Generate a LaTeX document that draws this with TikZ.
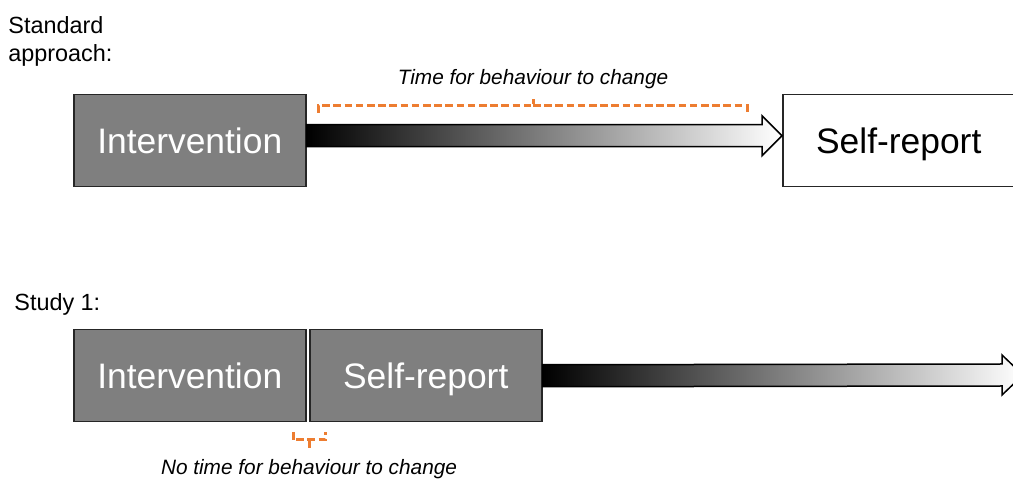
\documentclass[tikz,border=0pt]{standalone}
\usepackage{fontspec}
\setmainfont{Liberation Sans}
\usetikzlibrary{calc}
\definecolor{boxgray}{HTML}{7F7F7F}
\definecolor{boxedge}{HTML}{262626}
\definecolor{braceorange}{HTML}{ED7D31}
\tikzset{
  stagebox/.style={draw=boxedge, line width=0.75pt, minimum width=116pt, minimum height=46pt,
    inner sep=0pt, anchor=north west, text height=16.5pt, text depth=3.5pt,
    font=\fontsize{17.7}{20}\selectfont},
  darkbox/.style={stagebox, fill=boxgray, text=white},
  lightbox/.style={stagebox, fill=white, text=black},
  fadearrow/.style={draw=black, line width=0.75pt, left color=black, right color=white},
  brace/.style={draw=braceorange, line width=1.5pt, dash pattern=on 3.8pt off 1.8pt},
  bracelabel/.style={font=\fontsize{10.4}{12}\selectfont\itshape, inner sep=0pt},
  rowlabel/.style={font=\fontsize{11.7}{14}\selectfont, inner sep=0pt, align=left}
}
\begin{document}
\begin{tikzpicture}[x=0.5pt,y=-0.5pt]
\useasboundingbox (0,0) rectangle (1013,480);
\clip (0,0) rectangle (1013,480);

% row labels
\node[rowlabel, anchor=north west] (lblA) at (8,16) {Standard\\approach:};
\node[rowlabel, anchor=base west] (lblB) at (14,311) {Study 1:};

% standard approach: intervention, delay, self-report
\node[darkbox] (int1) at (73,94) {Intervention};
\node[lightbox] (sr1) at (782,94) {Self-report};
\draw[fadearrow] ($(int1.east)+(0,-16)$) -- ($(sr1.west)+(-20,-16)$) -- ($(sr1.west)+(-20,-25)$)
  -- ($(sr1.west)+(0,-5)$) -- ($(sr1.west)+(-20,15)$) -- ($(sr1.west)+(-20,6)$)
  -- ($(int1.east)+(0,6)$) -- cycle;

% brace over the delay
\coordinate (bA1) at (318,113);
\coordinate (bA2) at (747,113);
\coordinate (bAm) at (533,99);
\draw[brace] (bA1) -- (bA1 |- 0,106) -- (bAm |- 0,106) -- (bAm);
\draw[brace] (bAm |- 0,106) -- (bA2 |- 0,106) -- (bA2);
\node[bracelabel, anchor=base] (tA) at (533,85) {Time for behaviour to change};

% study 1: self-report straight after the intervention
\node[darkbox] (int2) at (73,329) {Intervention};
\node[darkbox] (sr2) at (309,329) {Self-report};
\coordinate (tip2) at (1023,375);
\draw[fadearrow] ($(sr2.east)+(0,-11)$) -- ($(tip2)+(-21,-11)$) -- ($(tip2)+(-21,-20)$)
  -- (tip2) -- ($(tip2)+(-21,20)$) -- ($(tip2)+(-21,11)$)
  -- ($(sr2.east)+(0,11)$) -- cycle;

% brace under the gap
\coordinate (bB1) at (293,432);
\coordinate (bB2) at (325,432);
\coordinate (bBm) at (309,448);
\draw[brace] (bB1) -- (bB1 |- 0,440) -- (bB2 |- 0,440) -- (bB2);
\draw[brace] (bBm |- 0,440) -- (bBm);
\node[bracelabel, anchor=base] (tB) at (309,475) {No time for behaviour to change};
\end{tikzpicture}
\end{document}
